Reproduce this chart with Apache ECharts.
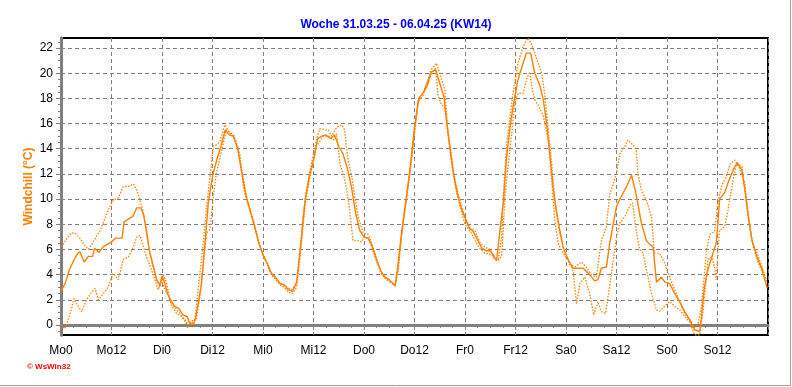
<!DOCTYPE html>
<html><head><meta charset="utf-8">
<script src="https://cdn.jsdelivr.net/npm/echarts@6/dist/echarts.min.js"></script>
<style>html,body{margin:0;padding:0;background:#fff}#c{width:792px;height:387px}</style>
</head><body><div id="c"></div>
<script>
const titleText = 'Woche 31.03.25 - 06.04.25 (KW14)';
const yAxisName = 'Windchill (°C)';
const xTickLabels = ['Mo0','Mo12','Di0','Di12','Mi0','Mi12','Do0','Do12','Fr0','Fr12','Sa0','Sa12','So0','So12',''];
const yTickValues = [0,2,4,6,8,10,12,14,16,18,20,22];

// [hour of week, °C]
const mainSeries = [[0,2.7],[1,3.3],[2,4.4],[3,5.1],[4,5.7],[4.5,5.8],[5.5,5.0],[6.5,5.45],[7.5,5.45],[8,6.1],[9,5.75],[10,6.2],[12,6.6],[13,6.9],[14.5,6.9],[15,8.2],[16,8.4],[17,8.6],[18,9.3],[19,9.3],[19.6,8.8],[20.3,7.5],[21,5.9],[22,4.6],[22.8,3.5],[23.5,3.2],[24,3.9],[24.6,3.4],[25.3,2.5],[26,2.0],[27,1.5],[28,1.3],[29,0.8],[30,0.65],[30.6,0.1],[31.5,0.05],[32,0.6],[32.6,1.7],[33.4,3.3],[34,5.6],[35,9.7],[36,11.8],[37,13.1],[38,14.2],[39,15.5],[40,15.1],[41,15.0],[42,14.0],[43,12.0],[44,10.2],[45,9.0],[46,7.8],[47,6.5],[48,5.6],[49,4.9],[50,4.1],[51,3.8],[52,3.3],[53,3.2],[54,2.8],[55,2.65],[56,3.4],[57,6.5],[58,9.9],[59,11.8],[60,13.1],[61,14.8],[62,15.0],[63,15.1],[64,14.8],[65,15.1],[66,14.2],[67,13.6],[68,12.5],[69,11.0],[70,8.9],[71,7.5],[72,7.0],[73,6.9],[74,6.2],[75,5.2],[76,4.3],[77,3.8],[78,3.6],[79.4,3.1],[80,4.6],[81,7.5],[82,9.9],[83,12.6],[84,15.7],[85,18.0],[86,18.4],[87,19.0],[88,20.1],[89,20.3],[90,19.2],[91,18.1],[92,15.2],[93,12.6],[94,10.7],[95,9.4],[96,8.5],[97,7.7],[98,7.4],[99,6.75],[100,6.1],[101,5.9],[102,5.9],[103,5.4],[103.5,5.1],[104.3,7.5],[105.1,9.7],[105.9,13.4],[106.7,15.7],[107.4,17.3],[108.6,19.5],[109.8,20.8],[110.6,21.6],[111.6,21.6],[112.6,20.0],[113.8,19.0],[114.6,17.9],[115.4,16.0],[116.2,13.4],[116.9,11.0],[117.7,9.1],[118.5,7.6],[119.3,6.2],[120.5,5.2],[121.7,4.5],[122.9,4.5],[124.1,4.5],[125.6,4.0],[126.8,3.5],[127.6,3.6],[128.4,4.5],[129.6,4.6],[130.4,6.5],[132,9.4],[132.8,10.0],[134.4,11.0],[135.6,11.9],[136.7,10.3],[137.9,8.1],[139.1,6.7],[139.9,6.4],[140.7,6.2],[141.5,3.4],[142.7,3.8],[143.5,3.4],[144.6,3.3],[145.8,2.5],[147,1.85],[148.2,1.06],[149.4,0.4],[150.6,-0.4],[151.8,-0.5],[152.2,0.7],[152.9,3.0],[153.7,4.4],[155.7,6.5],[156.1,8.1],[156.5,10.0],[157.7,10.5],[158.5,11.3],[159.7,12.3],[160.7,12.9],[161.8,12.3],[162.6,10.5],[163.4,8.4],[164.2,6.7],[165.4,5.4],[166.6,4.4],[167.8,2.9]];

const upperDotted = [[0,6.2],[1.7,7.0],[2.5,7.3],[3.3,7.3],[4.5,6.9],[5.7,6.3],[6.5,6.0],[7.7,6.6],[8.5,7.1],[9.3,7.5],[10.5,8.5],[11.2,9.1],[12.4,9.9],[13.6,10.1],[14.8,11.0],[16,11.0],[17.2,11.2],[18,10.7],[18.8,9.9],[19.6,8.9],[20.3,7.3],[21.1,5.7],[21.9,4.6],[22.7,3.6],[23.5,3.0],[24.3,4.0],[25.1,3.3],[25.9,2.0],[26.7,1.5],[28.3,0.9],[29.5,0.4],[30.2,0.0],[31,0.3],[31.8,0.4],[32.6,2.8],[33,4.1],[33.8,6.5],[34.6,9.4],[35.4,11.8],[36.2,14.2],[36.9,14.3],[37.8,14.6],[38.9,15.9],[40.2,15.2],[40.9,15.0],[41.7,14.3],[42.5,13.6],[43.3,11.0],[44.1,9.9],[45.7,8.3],[47.3,6.2],[48.9,4.9],[50.4,3.8],[52,3.3],[53.6,3.0],[54.8,2.8],[56,3.3],[56.8,5.7],[57.5,8.6],[58.3,10.7],[59.5,12.8],[60.7,14.7],[61.5,15.6],[62.7,15.5],[63.5,15.5],[64.3,15.0],[65.5,15.7],[66.7,15.9],[67.4,15.5],[68.2,13.1],[69.1,11.8],[69.8,10.2],[70.6,8.6],[71.8,7.3],[73,7.2],[73.8,6.5],[75,5.2],[76.2,4.0],[77.8,3.5],[79.4,3.1],[80.1,4.2],[80.9,7.0],[81.7,9.4],[82.9,12.0],[84.1,15.5],[84.9,17.9],[86.1,18.5],[86.8,19.1],[88,20.3],[89.2,20.8],[90,20.0],[91.2,18.7],[91.9,15.5],[92.8,13.4],[93.6,11.5],[94.8,9.9],[96,8.6],[97.2,7.7],[98.4,7.5],[99.6,6.5],[100.7,6.2],[101.9,6.0],[103.1,5.3],[103.9,5.2],[104.7,7.0],[105.1,10.2],[105.9,14.4],[106.7,16.5],[107.4,18.4],[108.6,20.8],[109.8,22.1],[110.9,22.8],[111.7,22.4],[112.9,21.3],[114.2,20.0],[114.9,18.4],[115.8,15.5],[116.6,12.8],[117.4,9.7],[118.5,7.3],[119.7,5.7],[120.9,4.8],[122.1,4.6],[123.7,5.0],[124.8,4.6],[126,4.0],[127.2,3.8],[128.4,6.7],[129.6,7.8],[130.4,10.4],[131.2,11.2],[132,12.0],[132.8,13.6],[134,14.2],[134.7,14.7],[135.9,14.3],[136.7,13.9],[137.1,12.0],[137.9,10.7],[139.1,9.9],[140.3,8.6],[141,5.7],[142.2,5.7],[143.5,4.9],[144.6,3.8],[145.8,2.8],[147,1.85],[148.2,0.9],[149.4,0.4],[150.6,-0.2],[151.4,0.1],[152.2,1.45],[153.4,6.0],[154.2,7.2],[155.3,7.4],[156.1,9.7],[156.9,11.0],[158.1,11.8],[159,12.8],[160.1,13.1],[161.3,12.4],[162.5,11.2],[163.4,8.3],[164.5,6.2],[165.7,4.9],[166.9,4.0],[167.8,3.05]];

const lowerDotted = [[0,0.0],[0.95,-0.3],[1.7,0.4],[2.5,1.3],[3.1,2.1],[3.7,1.7],[4.9,1.06],[6.1,2.0],[7.3,2.6],[8.1,2.9],[8.9,2.0],[10.1,2.5],[11.2,3.0],[12.4,4.1],[13.6,3.6],[14.8,5.2],[16,5.4],[17.2,6.2],[18,7.0],[18.8,7.1],[19.6,6.2],[20.3,5.4],[21.5,4.4],[22.3,3.6],[23.1,2.8],[23.9,3.6],[24.7,2.8],[25.5,2.3],[26.3,1.5],[27.5,0.9],[28.7,0.66],[30.2,-0.1],[31,0.1],[32.2,0.5],[33,2.25],[33.8,4.9],[34.6,7.3],[35.4,7.6],[36.2,10.2],[36.9,12.0],[38.2,13.9],[39.3,15.5],[40.2,15.3],[41,15.1],[42,14.2],[43,12.2],[44,10.4],[45,9.1],[46,7.9],[47,6.6],[48,5.5],[49,4.8],[50,4.0],[51,3.7],[52,3.2],[53,3.0],[54,2.6],[55,2.5],[56,3.0],[57,6.0],[58,9.5],[59,11.5],[60,13.0],[60.7,14.2],[62.3,15.0],[63.5,15.0],[64.7,14.7],[65.5,15.2],[66.3,12.8],[67.1,12.0],[67.9,10.7],[68.6,9.1],[69.1,7.5],[69.4,6.7],[70.6,6.7],[71.4,6.6],[72.2,7.0],[73.4,6.7],[74,6.0],[75,5.0],[76,4.2],[77,3.7],[78,3.5],[79.4,3.2],[80,4.4],[81,7.3],[82,9.7],[83,12.4],[84,15.5],[85,17.8],[86,18.2],[87,19.3],[88,19.9],[89,20.4],[89.6,18.2],[90.4,17.5],[91.2,17.2],[92,15.0],[93,12.4],[94,10.5],[95,9.2],[96,8.0],[97.5,7.3],[99.2,6.2],[100.7,5.7],[102.3,5.6],[103.1,5.2],[103.9,5.1],[104.7,5.5],[105.1,7.6],[105.5,10.2],[106.3,12.8],[107.1,15.2],[107.8,17.6],[108.6,18.4],[109.8,18.4],[110.6,19.5],[111.4,20.1],[112,18.7],[112.6,17.9],[113.8,17.2],[114.6,16.6],[115.8,14.7],[116.6,11.5],[117.4,8.1],[118.1,6.5],[119.3,5.7],[120.5,5.2],[121.7,4.3],[122.5,1.7],[123.3,3.3],[124.5,3.8],[125.6,2.5],[126.6,0.8],[127.6,1.85],[128.4,1.06],[129.4,0.9],[130,2.25],[130.8,4.1],[132,7.0],[132.8,8.1],[134,8.6],[135.2,9.5],[135.8,9.7],[136.7,7.5],[137.5,6.0],[138.3,5.7],[139.1,4.4],[140.3,2.5],[141.5,1.2],[142.3,1.1],[143.5,1.5],[144.6,1.85],[145.8,1.5],[147,1.2],[148.2,0.7],[149.4,0.2],[150.6,-0.8],[151.8,-0.8],[152.6,1.2],[153.4,3.8],[153.7,5.2],[154.6,5.4],[155.3,4.6],[155.7,3.6],[156.1,5.7],[156.5,7.5],[157.7,7.8],[158.5,9.1],[159,10.2],[159.7,11.5],[160.5,12.8],[161.8,12.6],[162.6,10.7],[163.4,8.6],[164.2,6.7],[165.4,5.7],[166.6,4.6],[167.8,3.3]];

const minorY = [];
for (let v = -0.5; v <= 22.5; v += 0.5) { if (Math.abs(v % 2) > 0.01) minorY.push(v); }

const ORANGE = '#ff8000';
const chart = echarts.init(document.getElementById('c'), null, {renderer: 'canvas'});
chart.setOption({
  animation: false,
  backgroundColor: '#fff',
  textStyle: {fontFamily: 'Liberation Sans, Arial, sans-serif'},
  title: {text: titleText, left: 'center', top: 14,
    textStyle: {color: '#0000ff', fontSize: 12, fontWeight: 'bold', fontFamily: 'Liberation Sans, Arial, sans-serif'}},
  grid: {left: 61, right: 24, top: 38, bottom: 52, show: true, borderColor: '#000', borderWidth: 2, containLabel: false},
  xAxis: {
    type: 'value', min: 0, max: 168, interval: 12,
    axisLine: {show: true, lineStyle: {color: '#808080', width: 3}},
    axisTick: {show: true, length: 5, lineStyle: {color: '#808080'}},
    minorTick: {show: true, splitNumber: 4, length: 3, lineStyle: {color: '#808080'}},
    splitLine: {show: true, lineStyle: {color: '#808080', type: [4, 3], width: 1}},
    axisLabel: {color: '#000', fontSize: 12, margin: 10, showMaxLabel: false,
      formatter: v => xTickLabels[Math.round(v / 12)] || ''}
  },
  yAxis: [{
    type: 'value', min: -0.8, max: 22.8,
    name: yAxisName, nameLocation: 'middle', nameGap: 26, nameRotate: 90, nameMoveOverlap: false,
    nameTextStyle: {color: ORANGE, fontWeight: 'bold', fontSize: 12},
    axisLine: {show: true, lineStyle: {color: '#808080', width: 3}},
    axisTick: {show: true, length: 5, customValues: yTickValues, lineStyle: {color: '#808080'}},
    splitLine: {show: true, lineStyle: {color: '#808080', type: [4, 3], width: 1}},
    axisLabel: {color: '#000', fontSize: 12, margin: 8, customValues: yTickValues}
  }, {
    type: 'value', min: -0.8, max: 22.8, position: 'left', offset: 0,
    axisLine: {show: true, lineStyle: {color: '#808080', width: 3}}, splitLine: {show: false},
    axisTick: {show: true, length: 3, customValues: minorY, lineStyle: {color: '#808080'}},
    axisLabel: {show: false}
  }],
  series: [
    {type: 'line', data: upperDotted, showSymbol: false, lineStyle: {color: ORANGE, width: 1.3, type: [1.5, 1.5]}, z: 3},
    {type: 'line', data: lowerDotted, showSymbol: false, lineStyle: {color: ORANGE, width: 1.3, type: [1.5, 1.5]}, z: 3},
    {type: 'line', data: mainSeries, showSymbol: false, lineStyle: {color: ORANGE, width: 1.4}, z: 4}
  ],
  graphic: [
    {type: 'text', left: 27, top: 363, style: {text: '© WsWin32', fill: '#ff0000', fontSize: 8, fontWeight: 'bold', fontFamily: 'Liberation Sans, Arial, sans-serif'}},
    {type: 'line', shape: {x1: 790.5, y1: 0, x2: 790.5, y2: 386}, style: {stroke: '#a0a0a0', lineWidth: 1}},
    {type: 'line', shape: {x1: 0, y1: 385.5, x2: 791, y2: 385.5}, style: {stroke: '#a0a0a0', lineWidth: 1}}
  ]
});
</script></body></html>
